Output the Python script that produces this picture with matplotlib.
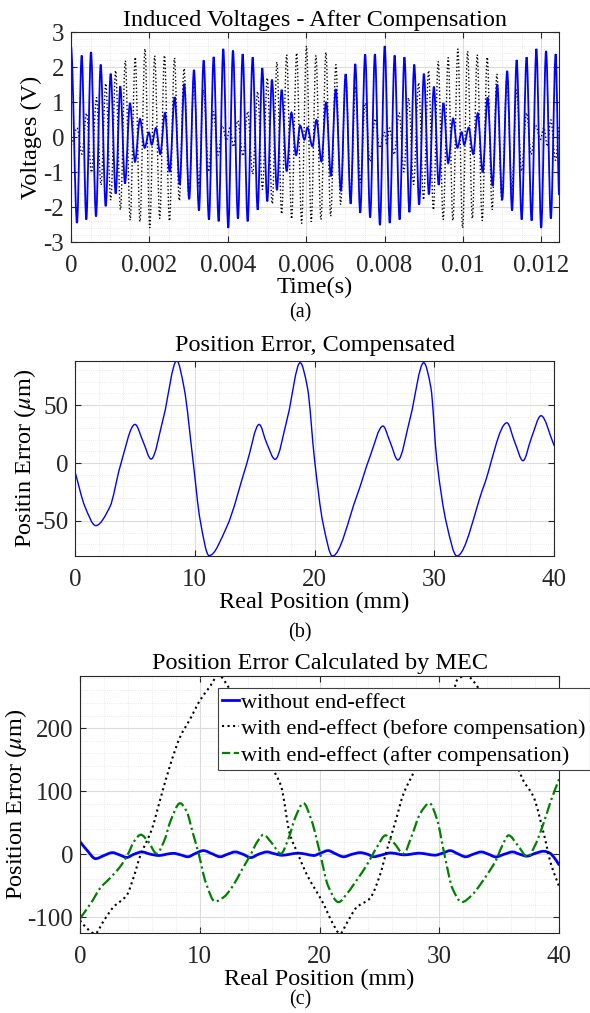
import matplotlib.pyplot as plt
from matplotlib.ticker import MultipleLocator, FixedLocator, FixedFormatter
from matplotlib.lines import Line2D
from matplotlib.path import Path
from matplotlib.patches import PathPatch
import numpy as np

plt.rcParams['font.family'] = ['Liberation Serif', 'DejaVu Serif']
plt.rcParams['mathtext.fontset'] = 'stix'
plt.rcParams['axes.unicode_minus'] = False

# ---- (a) induced voltages: peaks/troughs (time in ms) ----
t_blue_ms = [0.000, 0.153, 0.273, 0.390, 0.510, 0.638, 0.758, 0.885, 1.013, 1.140,
             1.258, 1.378, 1.505, 1.633, 1.760, 1.880, 1.990, 2.059, 2.168, 2.278,
             2.398, 2.518, 2.645, 2.773, 2.890, 3.015, 3.138, 3.265, 3.385, 3.520,
             3.640, 3.768, 3.885, 4.013, 4.133, 4.260, 4.380, 4.508, 4.635, 4.763,
             4.880, 5.008, 5.128, 5.255, 5.375, 5.503, 5.625, 5.745, 5.847, 5.957,
             6.033, 6.161, 6.263, 6.390, 6.510, 6.633, 6.755, 6.888, 7.008, 7.135,
             7.253, 7.380, 7.505, 7.633, 7.755, 7.883, 8.005, 8.133, 8.258, 8.385,
             8.508, 8.635, 8.758, 8.883, 9.005, 9.133, 9.260, 9.383, 9.503, 9.625,
             9.750, 9.860, 9.967, 10.033, 10.148, 10.263, 10.378, 10.505, 10.630, 10.758,
             10.875, 11.003, 11.130, 11.255, 11.372, 11.500, 11.625, 11.753, 11.875, 11.997,
             12.122, 12.245, 12.367, 12.457]
v_blue = [2.59, -2.46, 2.33, -2.36, 2.43, -2.27, 2.07, -1.98, 1.81, -1.62,
          1.45, -1.33, 0.97, -0.71, 0.52, -0.31, 0.13, -0.22, 0.26, -0.49,
          0.69, -1.00, 1.14, -1.36, 1.52, -1.78, 1.92, -2.10, 2.19, -2.36,
          2.29, -2.41, 2.52, -2.60, 2.47, -2.33, 2.37, -2.41, 2.28, -2.08,
          1.97, -1.84, 1.64, -1.52, 1.35, -0.98, 0.70, -0.52, 0.33, -0.08,
          0.27, -0.27, 0.49, -0.70, 1.00, -1.12, 1.37, -1.55, 1.80, -1.91,
          2.09, -2.17, 2.36, -2.30, 2.37, -2.52, 2.60, -2.46, 2.33, -2.36,
          2.28, -2.15, 2.07, -1.93, 1.81, -1.64, 1.44, -1.37, 0.97, -0.75,
          0.53, -0.31, 0.14, -0.22, 0.27, -0.49, 0.68, -1.01, 1.13, -1.40,
          1.50, -1.80, 1.89, -2.10, 2.20, -2.36, 2.28, -2.39, 2.52, -2.60,
          2.46, -2.33, 2.37, -1.66]

t_black_ms = [0.000, 0.153, 0.281, 0.395, 0.523, 0.651, 0.765, 0.888, 1.015, 1.140,
              1.263, 1.385, 1.510, 1.638, 1.760, 1.888, 2.010, 2.135, 2.265, 2.385,
              2.513, 2.640, 2.763, 2.883, 3.010, 3.138, 3.265, 3.380, 3.513, 3.630,
              3.758, 3.860, 3.967, 4.056, 4.145, 4.253, 4.388, 4.508, 4.635, 4.763,
              4.885, 5.008, 5.135, 5.255, 5.375, 5.503, 5.630, 5.758, 5.885, 6.008,
              6.130, 6.250, 6.378, 6.505, 6.625, 6.760, 6.880, 7.008, 7.135, 7.263,
              7.380, 7.508, 7.628, 7.763, 7.875, 7.997, 8.061, 8.125, 8.247, 8.375,
              8.495, 8.615, 8.742, 8.870, 8.997, 9.125, 9.247, 9.370, 9.497, 9.625,
              9.745, 9.872, 9.992, 10.120, 10.242, 10.365, 10.493, 10.620, 10.747, 10.867,
              10.995, 11.122, 11.250, 11.370, 11.497, 11.625, 11.742, 11.855, 11.977, 12.066,
              12.156, 12.245, 12.365, 12.457]
v_black = [-0.22, 0.26, -0.49, 0.68, -1.01, 1.13, -1.37, 1.53, -1.80, 1.90,
           -2.08, 2.18, -2.38, 2.28, -2.42, 2.52, -2.60, 2.32, -2.33, 2.33,
           -2.40, 2.26, -1.82, 1.96, -1.75, 1.62, -1.41, 1.35, -0.99, 0.73,
           -0.52, 0.33, -0.10, 0.26, -0.28, 0.47, -0.54, 0.73, -1.06, 1.30,
           -1.50, 1.69, -1.91, 2.14, -2.20, 2.35, -2.34, 2.40, -2.47, 2.60,
           -2.42, 2.33, -2.36, 2.42, -2.26, 2.07, -1.93, 1.78, -1.65, 1.45,
           -1.31, 0.97, -0.70, 0.52, -0.31, 0.13, -0.22, 0.26, -0.50, 0.69,
           -1.00, 1.12, -1.36, 1.55, -1.79, 1.90, -2.08, 2.16, -2.36, 2.27,
           -2.39, 2.52, -2.60, 2.45, -2.33, 2.35, -2.39, 2.28, -2.08, 1.80,
           -1.84, 1.64, -1.52, 1.35, -0.98, 0.69, -0.50, 0.33, -0.07, 0.27,
           -0.27, 0.49, -0.67, 0.30]

xticks_a = [0, 0.002, 0.004, 0.006, 0.008, 0.01, 0.012]
xticklabels_a = ['0', '0.002', '0.004', '0.006', '0.008', '0.01', '0.012']

# ---- (b) position error, compensated (extremes and a few points between) ----
pos_b = [0, 0.83, 1.73, 2.92, 3.76, 5.01, 5.7, 6.35, 7.4, 8.49, 9.1, 9.85, 10.44, 11.19,
         12.67, 14.34, 15.37, 16.0, 16.7, 17.75, 18.79, 19.4, 20.0, 20.7, 21.49, 23.5,
         24.6, 25.7, 26.3, 26.95, 28.0, 29.1, 29.7, 30.2, 31.0, 31.87, 34.1, 36.05,
         36.7, 37.39, 38.1, 38.89, 40]
err_b = [-7.5, -37.6, -54, -37.6, -3.2, 33.3, 18, 3.4, 40, 88.2, 65, 2, -49, -79.9,
         -54.9, -0.3, 33.3, 17, 3.2, 40, 86.5, 65, 2, -52, -80.2, -29,
         5, 31.9, 18, 2.6, 40, 86.5, 65, 2, -52, -80.2, -20.4, 34.7,
         18, 2, 22, 40.8, 14.7]

# ---- (c) position error calculated by MEC ----
pos_c1 = [0, 0.6, 1.3, 2, 2.7, 3.3, 3.9, 4.5, 5.15, 5.9, 6.6, 7.2, 7.8, 8.4, 9, 9.6,
          10.3, 11, 11.7, 12.3, 12.95, 13.6, 14.25, 14.9, 15.6, 16.2, 16.85, 17.5, 18.2,
          18.9, 19.5, 20.1, 20.7, 21.3, 22, 22.7, 23.4, 24, 24.5, 25.2, 25.9, 26.4, 27,
          27.6, 28.3, 29, 29.6, 30.3, 30.9, 31.5, 32.2, 32.8, 33.5, 34.1, 34.7, 35.4,
          36.1, 36.7, 37.3, 38, 38.7, 39.2, 39.6, 40]
err_c1 = [20, 6, -7, -2, 2.6, -1, -5, 0, 3.7, 0, -2, 0, 1.5, -1, -4, 1,
          5.8, 1, -4, 0, 3.7, 0, -5.3, 0, 3.7, 1, -1.6, 0, 1.8,
          0, -2, 2, 5.8, 1, -4, 0, 2.6, 0, -4, -1, 2.1, 1, -1,
          0, 1.8, 0, -1.5, 2, 5.8, 1, -4, 0, 3.7, 0, -4.2, 0,
          3.7, 0, -3, 1.5, 4.8, 2, -6, -17.5]

pos_c2 = [0, 0.6, 1.25, 2, 2.78, 3.9, 4.5, 5, 6, 6.68, 7.5, 8.35, 9.2, 10, 10.8, 11.55,
          12.4, 13.2, 14.2, 15.2, 16.3, 16.8, 17.5, 18.2, 18.9, 20.3, 21.1, 21.7, 22.3,
          23.1, 24.2, 25, 25.6, 26.3, 27, 27.8, 29, 30, 31, 31.45, 32.2, 33.1, 34, 35,
          35.8, 36.5, 37, 37.85, 38.7, 39.3, 40]
err_c2 = [-105, -118, -126, -105, -84, -65, -35, -4, 40, 86, 140, 186, 215, 244, 265, 284,
          265, 230, 190, 160, 128, 107, 33, 0, -31, -78, -110, -126, -108,
          -84, -70, -35, 6, 50, 96, 128, 175, 210, 240, 276, 284, 268, 225, 185,
          155, 138, 117, 91, 33, -15, -52]

pos_c3 = [0, 1, 1.67, 2.5, 3.34, 4, 4.5, 5.07, 5.7, 6.4, 7, 7.6, 8.35, 8.9, 9.4, 9.9,
          10.5, 11.27, 12, 12.8, 13.5, 14.2, 14.8, 15.3, 16, 16.76, 17.4, 18, 18.65,
          19.3, 20.04, 20.7, 21.57, 22.3, 23.1, 24, 24.8, 25.5, 26.2, 27, 27.7, 28.4,
          29.17, 29.8, 30.4, 31.1, 31.87, 32.7, 33.7, 34.7, 35.2, 35.77, 36.5, 37.35,
          38, 38.7, 39.3, 40]
err_c3 = [-102, -75, -54, -38, -20, 0, 20, 31, 20, 1, 20, 55, 81, 68, 35, 1,
          -45, -75, -68, -49, -25, -2, 20, 31, 18, 1, 25, 60, 81,
          55, 1, -50, -76, -62, -41, -15, 12, 30, 18, 1, 30, 65,
          81, 55, 1, -55, -76, -65, -40, -10, 12, 30, 15, -4,
          15, 50, 85, 120]

labels_c = ['without end-effect', 'with end-effect (before compensation)',
            'with end-effect (after compensation)']

W, H = 590, 1013
FS = 17.5
fig = plt.figure(figsize=(W / 100, H / 100), dpi=100)


def rect(l, r, t, b):
    return [l / W, 1 - b / H, (r - l) / W, (b - t) / H]


def smooth_curve(ax, x, y, flat_ends=False, **kw):
    # draw a smooth line through the read points (cubic segments, flat at extremes)
    x = np.asarray(x, float)
    y = np.asarray(y, float)
    n = len(x)
    sec = np.diff(y) / np.diff(x)
    m = np.zeros(n)
    if not flat_ends:
        m[0], m[-1] = sec[0], sec[-1]
    for i in range(1, n - 1):
        if sec[i - 1] * sec[i] > 0:
            m[i] = 2 / (1 / sec[i - 1] + 1 / sec[i])
    verts = [(x[0], y[0])]
    codes = [Path.MOVETO]
    for i in range(n - 1):
        dx = x[i + 1] - x[i]
        verts += [(x[i] + dx / 3, y[i] + m[i] * dx / 3),
                  (x[i + 1] - dx / 3, y[i + 1] - m[i + 1] * dx / 3),
                  (x[i + 1], y[i + 1])]
        codes += [Path.CURVE4] * 3
    ax.add_patch(PathPatch(Path(verts, codes), facecolor='none', **kw))


def style(ax, xminor, yminor):
    ax.xaxis.set_minor_locator(MultipleLocator(xminor))
    ax.yaxis.set_minor_locator(MultipleLocator(yminor))
    ax.grid(True, which='major', color='#dcdcdc', lw=0.8)
    ax.grid(True, which='minor', color='#e4e4e4', lw=0.6, ls=':')
    ax.set_axisbelow(True)
    for s in ax.spines.values():
        s.set_color('#262626')
        s.set_linewidth(0.8)
    ax.tick_params(which='major', direction='in', top=True, right=True, length=4,
                   color='#262626', labelsize=18, labelcolor='#262626')
    ax.tick_params(which='minor', length=0)
    ax.tick_params(axis='x', pad=9)
    ax.tick_params(axis='y', pad=5)


# (a)
ax1 = fig.add_axes(rect(71, 559.3, 32, 242))
smooth_curve(ax1, np.array(t_black_ms) * 1e-3, v_black, flat_ends=True,
             edgecolor='k', ls=':', lw=1.0)
smooth_curve(ax1, np.array(t_blue_ms) * 1e-3, v_blue, flat_ends=True,
             edgecolor='b', lw=1.3)
ax1.set_xlim(0, 0.01246)
ax1.set_ylim(-3, 3)
ax1.xaxis.set_major_locator(FixedLocator(xticks_a))
ax1.xaxis.set_major_formatter(FixedFormatter(xticklabels_a))
ax1.yaxis.set_major_locator(MultipleLocator(1))
style(ax1, 0.0005, 0.2)
ax1.set_title('Induced Voltages - After Compensation', fontsize=FS, pad=4)
ax1.set_xlabel('Time(s)', fontsize=FS, labelpad=0)
ax1.set_ylabel('Voltages (V)', fontsize=FS, labelpad=1)
fig.text(300 / W, 1 - 313 / H, '(a)', ha='center', va='center', fontsize=14.5)

# (b)
ax2 = fig.add_axes(rect(75, 554.3, 361, 556))
smooth_curve(ax2, pos_b, err_b, edgecolor='b', lw=1.0)
ax2.set_xlim(0, 40)
ax2.set_ylim(-80.2, 88)
ax2.xaxis.set_major_locator(MultipleLocator(10))
ax2.yaxis.set_major_locator(FixedLocator([-50, 0, 50]))
style(ax2, 2, 10)
ax2.set_title('Position Error, Compensated', fontsize=FS, pad=7)
ax2.set_xlabel('Real Position (mm)', fontsize=FS, labelpad=1)
ax2.set_ylabel(r'Positin Error ($\mu$m)', fontsize=FS, labelpad=-2)
fig.text(300 / W, 1 - 633 / H, '(b)', ha='center', va='center', fontsize=14.5)

# (c)
ax3 = fig.add_axes(rect(80, 559.3, 676, 933))
smooth_curve(ax3, pos_c1, err_c1, edgecolor='b', lw=2.0)
smooth_curve(ax3, pos_c2, err_c2, edgecolor='k', ls=':', lw=1.5)
smooth_curve(ax3, pos_c3, err_c3, edgecolor='#008000', lw=1.6, ls=(0, (5, 1.5, 1, 1.5)))
ax3.set_xlim(0, 40)
ax3.set_ylim(-125, 283)
ax3.xaxis.set_major_locator(MultipleLocator(10))
ax3.yaxis.set_major_locator(MultipleLocator(100))
style(ax3, 2, 20)
ax3.set_title('Position Error Calculated by MEC', fontsize=FS, pad=5)
ax3.set_xlabel('Real Position (mm)', fontsize=FS, labelpad=1)
ax3.set_ylabel(r'Position Error ($\mu$m)', fontsize=FS, labelpad=-1)
h1 = Line2D([], [], color='b', lw=2.0)
h2 = Line2D([], [], color='k', ls=':', lw=1.5)
h3 = Line2D([], [], color='#008000', lw=1.6, ls='--')
leg = ax3.legend([h1, h2, h3], labels_c, loc='upper left',
                 bbox_to_anchor=(217.5 / W, 1 - 687.5 / H), bbox_transform=fig.transFigure,
                 fontsize=16.1, frameon=True, fancybox=False, framealpha=1,
                 edgecolor='#404040', borderpad=0.2, handlelength=0.75,
                 handletextpad=0.1, labelspacing=0.27, borderaxespad=0)
leg.get_frame().set_linewidth(0.8)
fig.text(300 / W, 1 - 1000 / H, '(c)', ha='center', va='center', fontsize=14.5)

fig.savefig('out.png', dpi=100)
